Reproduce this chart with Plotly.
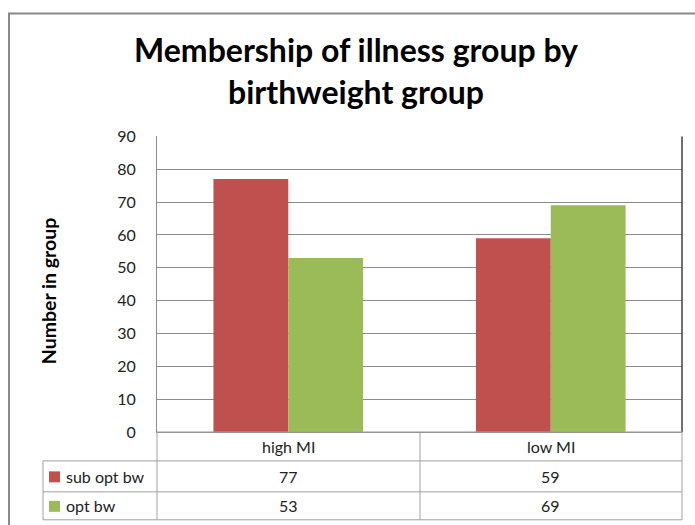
import plotly.graph_objects as go

categories = ["high MI", "low MI"]
series_names = ["sub opt bw", "opt bw"]
sub_opt_bw = [77, 59]
opt_bw = [53, 69]
y_ticks = [0, 10, 20, 30, 40, 50, 60, 70, 80, 90]

colors = ["#C0504D", "#9BBB59"]
W, H = 695, 535
OFF, SC = 8.4, 0.966  # observed page offset / vertical scale of the capture
FONT = "Lato"

def px(x):
    return x / W

def py(y):
    return 1 - ((y - OFF) / SC) / H

fig = go.Figure()
for name, vals, col in zip(series_names, [sub_opt_bw, opt_bw], colors):
    fig.add_trace(go.Bar(x=categories, y=vals, name=name, marker_color=col,
                         marker_line_width=0))

x0, x1 = 157, 682
y0, y1 = 135, 431
fig.update_layout(
    width=W, height=H, autosize=False, margin=dict(l=0, r=0, t=0, b=0),
    paper_bgcolor="white", plot_bgcolor="white",
    barmode="group", bargap=0.43, bargroupgap=0, showlegend=False,
    font=dict(family=FONT, color="#222222"),
    xaxis=dict(domain=[px(x0), px(x1)], showticklabels=False, showgrid=False,
               showline=True, linecolor="#8C8C8C", linewidth=1, ticks=""),
    yaxis=dict(domain=[py(y1), py(y0)], range=[0, 90], tickvals=y_ticks,
               showgrid=True, gridcolor="#8C8C8C", gridwidth=1,
               showline=True, linecolor="#8C8C8C", linewidth=1,
               ticks="outside", ticklen=17, tickcolor="rgba(0,0,0,0)",
               tickfont=dict(size=16, family=FONT, color="#222222"),
               zeroline=False),
)

shapes = []
# outer chart border
shapes.append(dict(type="rect", xref="paper", yref="paper",
                   x0=px(9), x1=px(720), y0=py(12), y1=py(580),
                   line=dict(color="#8A8A8A", width=2)))
# darker right edge of plot area
shapes.append(dict(type="line", xref="paper", yref="paper",
                   x0=px(x1), x1=px(x1), y0=py(y0), y1=py(y1),
                   line=dict(color="#404040", width=1.5)))
tbl = "#A0A0A0"
rows = [431, 460, 491, 519]
# horizontal table lines
shapes.append(dict(type="line", xref="paper", yref="paper", x0=px(x0), x1=px(x1),
                   y0=py(rows[0]), y1=py(rows[0]), line=dict(color=tbl, width=1)))
for r in rows[1:]:
    shapes.append(dict(type="line", xref="paper", yref="paper", x0=px(43), x1=px(x1),
                       y0=py(r), y1=py(r), line=dict(color=tbl, width=1)))
# vertical table lines
for xv in [x0, 420, x1]:
    shapes.append(dict(type="line", xref="paper", yref="paper", x0=px(xv), x1=px(xv),
                       y0=py(rows[0]), y1=py(rows[-1]), line=dict(color=tbl, width=1)))
shapes.append(dict(type="line", xref="paper", yref="paper", x0=px(43), x1=px(43),
                   y0=py(rows[1]), y1=py(rows[-1]), line=dict(color=tbl, width=1)))
# legend keys
for i, col in enumerate(colors):
    yc = (rows[i + 1] + rows[i + 2]) / 2
    shapes.append(dict(type="rect", xref="paper", yref="paper", x0=px(49), x1=px(60),
                       y0=py(yc - 5), y1=py(yc + 6), fillcolor=col, line=dict(width=0)))

ann = []
ann.append(dict(text="<b>Membership of illness group by</b>", xref="paper", yref="paper",
                x=px(356), y=py(48), showarrow=False, xanchor="center", yanchor="middle",
                font=dict(size=32, family=FONT, color="#000000")))
ann.append(dict(text="<b>birthweight group</b>", xref="paper", yref="paper",
                x=px(356), y=py(90), showarrow=False, xanchor="center", yanchor="middle",
                font=dict(size=32, family=FONT, color="#000000")))
ann.append(dict(text="<b>Number in group</b>", xref="paper", yref="paper",
                x=px(48), y=py(290), showarrow=False, textangle=-90,
                xanchor="center", yanchor="middle",
                font=dict(size=19.5, family=FONT, color="#000000")))
for c in categories:
    ann.append(dict(text=c, xref="x", yref="paper", x=c, y=py(446), showarrow=False,
                    xanchor="center", yanchor="middle",
                    font=dict(size=16, family=FONT, color="#222222")))
for i, (name, vals) in enumerate(zip(series_names, [sub_opt_bw, opt_bw])):
    yc = (rows[i + 1] + rows[i + 2]) / 2
    ann.append(dict(text=name, xref="paper", yref="paper", x=px(64), y=py(yc),
                    showarrow=False, xanchor="left", yanchor="middle",
                    font=dict(size=16, family=FONT, color="#222222")))
    for c, v in zip(categories, vals):
        ann.append(dict(text=str(v), xref="x", yref="paper", x=c, y=py(yc),
                        showarrow=False, xanchor="center", yanchor="middle",
                        font=dict(size=16, family=FONT, color="#222222")))

fig.update_layout(shapes=shapes, annotations=ann)
fig.write_html("out.html",
               config={"displayModeBar": False, "responsive": False},
               post_script="document.body.style.margin='0';document.body.style.padding='0';document.body.style.overflow='hidden';")
